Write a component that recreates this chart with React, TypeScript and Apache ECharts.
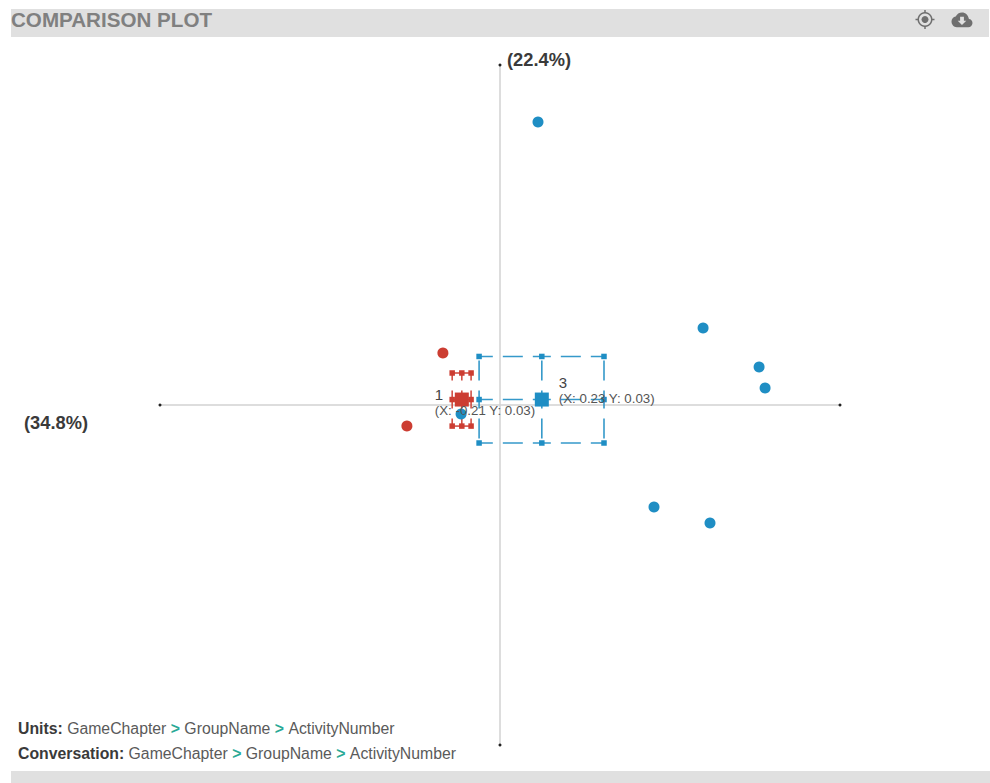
import React, { useEffect, useRef } from "react";
import * as echarts from "echarts";

const FONT = "'Liberation Sans', Arial, sans-serif";
const BLUE = "#1f8ec4";
const RED = "#cc3d32";

const AXIS_MIN = -1.87;
const AXIS_MAX = 1.87;
const xAxisPct = "(34.8%)";
const yAxisPct = "(22.4%)";

const bluePoints = [
  [0.209, 1.557],
  [1.117, 0.424],
  [1.425, 0.209],
  [1.458, 0.094],
  [0.847, -0.561],
  [1.155, -0.649],
  [-0.214, -0.05],
];
const redPoints = [
  [-0.314, 0.286],
  [-0.512, -0.116],
];
// [low, mean, high]
const blueBoxX = [-0.115, 0.23, 0.572];
const blueBoxY = [-0.209, 0.03, 0.267];
const redBoxX = [-0.263, -0.21, -0.159];
const redBoxY = [-0.116, 0.03, 0.176];
const blueLabel = ["3", "(X: 0.23 Y: 0.03)"];
const redLabel = ["1", "(X: -0.21 Y: 0.03)"];
const unitsPath = ["GameChapter", "GroupName", "ActivityNumber"];

const CLOUD =
  "M16.6 6.2C16 2.6 13.3 0 10 0 7.4 0 5.1 1.5 4 3.9 1.7 4.2 0 6.2 0 8.6 0 11.4 2.2 14 5 14H16C18.2 14 20 12 20 9.9 20 7.9 18.5 6.3 16.6 6.2Z";
const ARROW = "M8 3.5H12V7.5H14.5L10 12 5.5 7.5H8Z";
echarts.graphic.registerShape("cloudIcon", echarts.graphic.extendPath(CLOUD, {}) as any);
echarts.graphic.registerShape("arrowIcon", echarts.graphic.extendPath(ARROW, {}) as any);

function boxSeries(bx: number[], by: number[], color: string) {
  const [x0, xm, x1] = bx;
  const [y0, ym, y1] = by;
  const segments = [
    [[xm, ym], [xm, y1]],
    [[xm, ym], [xm, y0]],
    [[xm, ym], [x0, ym]],
    [[xm, ym], [x1, ym]],
    [[xm, y1], [x0, y1]],
    [[xm, y1], [x1, y1]],
    [[xm, y0], [x0, y0]],
    [[xm, y0], [x1, y0]],
    [[x0, ym], [x0, y1]],
    [[x0, ym], [x0, y0]],
    [[x1, ym], [x1, y1]],
    [[x1, ym], [x1, y0]],
  ];
  const lines = segments.map((data) => ({
    type: "line",
    data,
    showSymbol: false,
    silent: true,
    z: 3,
    lineStyle: { color, width: 1.6, opacity: 0.9, type: [20, 10], dashOffset: 11 },
  }));
  const nodes: number[][] = [];
  bx.forEach((x) =>
    by.forEach((y) => {
      if (!(x === xm && y === ym)) nodes.push([x, y]);
    })
  );
  return [
    ...lines,
    {
      type: "scatter",
      data: nodes,
      symbol: "rect",
      symbolSize: 5.5,
      itemStyle: { color, opacity: 1 },
      silent: true,
      z: 4,
    },
  ];
}

function meanSeries(x: number, y: number, color: string, lines: string[], offset: number[]) {
  return {
    type: "scatter",
    data: [[x, y]],
    symbol: "rect",
    symbolSize: 14,
    itemStyle: { color, opacity: 1 },
    silent: true,
    z: 5,
    label: {
      show: true,
      position: offset,
      align: "left",
      verticalAlign: "top",
      formatter: `{a|${lines[0]}}\n{b|${lines[1]}}`,
      rich: {
        a: { fontFamily: FONT, fontSize: 15, color: "#444444", lineHeight: 17, align: "left" },
        b: { fontFamily: FONT, fontSize: 13.3, color: "#555555", lineHeight: 16, align: "left" },
      },
    },
  };
}

function pathText(title: string, path: string[]) {
  return (
    `{k|${title}} ` +
    path.map((p) => `{v|${p}}`).join(" {g|>} ")
  );
}

export default function App() {
  const ref = useRef<HTMLDivElement>(null);

  useEffect(() => {
    document.body.style.margin = "0";
    document.body.style.overflow = "hidden";
    const chart = echarts.init(ref.current!, undefined, { renderer: "svg" });
    const richText = {
      k: { fontFamily: FONT, fontSize: 15.8, fontWeight: "bold", fill: "#3a3a3a", color: "#3a3a3a" },
      v: { fontFamily: FONT, fontSize: 15.8, fill: "#5a5a5a", color: "#5a5a5a" },
      g: { fontFamily: FONT, fontSize: 15.8, fontWeight: "bold", fill: "#2aa996", color: "#2aa996" },
    };
    const axisCommon = {
      type: "value",
      min: AXIS_MIN,
      max: AXIS_MAX,
      axisTick: { show: false },
      axisLabel: { show: false },
      splitLine: { show: false },
      axisLine: { show: true, onZero: true, lineStyle: { color: "#d2d2d2", width: 1.5 } },
    };
    chart.setOption({
      animation: false,
      backgroundColor: "#ffffff",
      grid: { left: 160, top: 65, width: 680, height: 680 },
      xAxis: axisCommon,
      yAxis: axisCommon,
      series: [
        {
          type: "scatter",
          data: [
            [AXIS_MIN, 0],
            [AXIS_MAX, 0],
            [0, AXIS_MIN],
            [0, AXIS_MAX],
          ],
          symbolSize: 3,
          itemStyle: { color: "#222222", opacity: 1 },
          silent: true,
          z: 2,
        },
        ...boxSeries(redBoxX, redBoxY, RED),
        ...boxSeries(blueBoxX, blueBoxY, BLUE),
        {
          type: "scatter",
          data: redPoints,
          symbolSize: 11,
          itemStyle: { color: RED, opacity: 1 },
          silent: true,
          z: 4,
        },
        meanSeries(redBoxX[1], redBoxY[1], RED, redLabel, [-20, -7]),
        {
          type: "scatter",
          data: bluePoints,
          symbolSize: 11,
          itemStyle: { color: BLUE, opacity: 1 },
          silent: true,
          z: 5,
        },
        meanSeries(blueBoxX[1], blueBoxY[1], BLUE, blueLabel, [24, -19]),
      ],
      graphic: [
        { type: "rect", silent: true, shape: { x: 11, y: 9, width: 978, height: 28 }, style: { fill: "#e0e0e0" } },
        { type: "rect", silent: true, shape: { x: 11, y: 771, width: 979, height: 12 }, style: { fill: "#e0e0e0" } },
        {
          type: "text",
          x: 11,
          y: 8.5,
          style: { text: "COMPARISON PLOT", fontFamily: FONT, fontSize: 20.6, fontWeight: "bold", fill: "#808080" },
        },
        { type: "ring", shape: { cx: 925, cy: 19.5, r: 7.5, r0: 6 }, style: { fill: "#6f6f6f" } },
        { type: "circle", shape: { cx: 925, cy: 19.5, r: 3.5 }, style: { fill: "#6f6f6f" } },
        { type: "line", shape: { x1: 925, y1: 10, x2: 925, y2: 13 }, style: { stroke: "#6f6f6f", lineWidth: 1.5 } },
        { type: "line", shape: { x1: 925, y1: 26, x2: 925, y2: 29 }, style: { stroke: "#6f6f6f", lineWidth: 1.5 } },
        { type: "line", shape: { x1: 915.5, y1: 19.5, x2: 918.5, y2: 19.5 }, style: { stroke: "#6f6f6f", lineWidth: 1.5 } },
        { type: "line", shape: { x1: 931.5, y1: 19.5, x2: 934.5, y2: 19.5 }, style: { stroke: "#6f6f6f", lineWidth: 1.5 } },
        { type: "cloudIcon", x: 951.5, y: 12.5, scaleX: 1.05, scaleY: 1.05, style: { fill: "#6f6f6f" } },
        { type: "arrowIcon", x: 952.5, y: 13.5, scaleX: 0.95, scaleY: 0.95, style: { fill: "#e0e0e0" } },
        {
          type: "text",
          x: 507,
          y: 50,
          style: { text: yAxisPct, fontFamily: FONT, fontSize: 18.3, fontWeight: "bold", fill: "#3a3a3a" },
        },
        {
          type: "text",
          x: 24,
          y: 413,
          style: { text: xAxisPct, fontFamily: FONT, fontSize: 18.3, fontWeight: "bold", fill: "#3a3a3a" },
        },
        {
          type: "text",
          x: 18,
          y: 720,
          style: { text: pathText("Units:", unitsPath), fontFamily: FONT, fontSize: 15.8, rich: richText },
        },
        {
          type: "text",
          x: 18,
          y: 745,
          style: { text: pathText("Conversation:", unitsPath), fontFamily: FONT, fontSize: 15.8, rich: richText },
        },
      ],
    });
    return () => chart.dispose();
  }, []);

  return <div ref={ref} style={{ position: "absolute", left: 0, top: 0, width: 990, height: 783 }} />;
}
